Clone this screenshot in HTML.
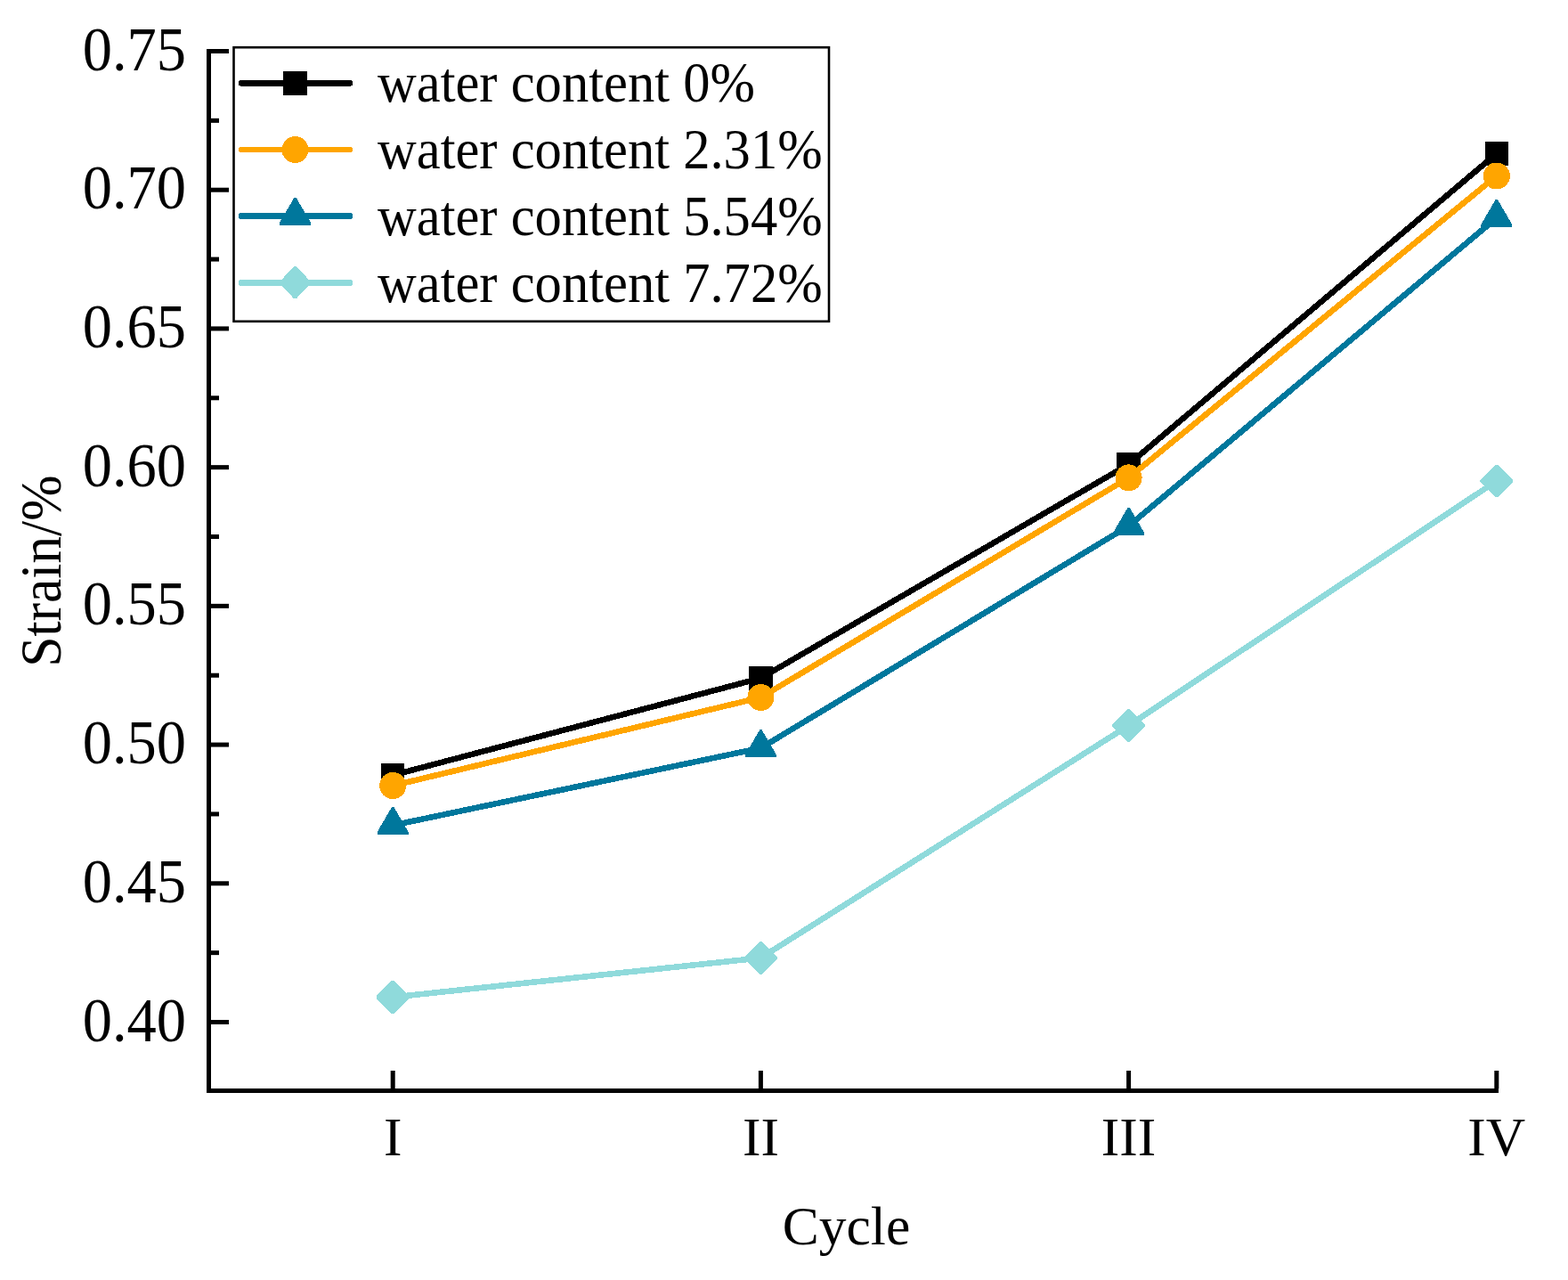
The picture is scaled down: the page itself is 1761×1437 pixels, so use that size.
<!DOCTYPE html>
<html><head><meta charset="utf-8"><title>Strain vs Cycle</title>
<style>
html,body{margin:0;padding:0;background:#fff;}
body{width:1761px;height:1437px;overflow:hidden;}
svg{display:block;}
text{font-family:"Liberation Serif","Times New Roman",serif;fill:#000;}
.tk{font-size:66.5px;}
.xl{font-size:61.5px;}
.ti{font-size:61.5px;}
.lg{font-size:60.6px;}
</style></head><body>
<svg width="1761" height="1437" viewBox="0 0 1761 1437">
<rect width="1761" height="1437" fill="#fff"/>
<rect x="232" y="55" width="5" height="1172" fill="#000"/>
<rect x="232" y="1222" width="1451" height="5" fill="#000"/>
<rect x="237" y="55.00" width="20" height="5" fill="#000"/>
<rect x="237" y="132.86" width="9" height="5" fill="#000"/>
<text transform="translate(209,78.50) scale(1,1.045)" text-anchor="end" class="tk">0.75</text>
<rect x="237" y="210.71" width="20" height="5" fill="#000"/>
<rect x="237" y="288.57" width="9" height="5" fill="#000"/>
<text transform="translate(209,234.21) scale(1,1.045)" text-anchor="end" class="tk">0.70</text>
<rect x="237" y="366.43" width="20" height="5" fill="#000"/>
<rect x="237" y="444.29" width="9" height="5" fill="#000"/>
<text transform="translate(209,389.93) scale(1,1.045)" text-anchor="end" class="tk">0.65</text>
<rect x="237" y="522.14" width="20" height="5" fill="#000"/>
<rect x="237" y="600.00" width="9" height="5" fill="#000"/>
<text transform="translate(209,545.64) scale(1,1.045)" text-anchor="end" class="tk">0.60</text>
<rect x="237" y="677.86" width="20" height="5" fill="#000"/>
<rect x="237" y="755.71" width="9" height="5" fill="#000"/>
<text transform="translate(209,701.36) scale(1,1.045)" text-anchor="end" class="tk">0.55</text>
<rect x="237" y="833.57" width="20" height="5" fill="#000"/>
<rect x="237" y="911.43" width="9" height="5" fill="#000"/>
<text transform="translate(209,857.07) scale(1,1.045)" text-anchor="end" class="tk">0.50</text>
<rect x="237" y="989.29" width="20" height="5" fill="#000"/>
<rect x="237" y="1067.14" width="9" height="5" fill="#000"/>
<text transform="translate(209,1012.79) scale(1,1.045)" text-anchor="end" class="tk">0.45</text>
<rect x="237" y="1145.00" width="20" height="5" fill="#000"/>
<text transform="translate(209,1168.50) scale(1,1.045)" text-anchor="end" class="tk">0.40</text>
<rect x="438.70" y="1202" width="5" height="20" fill="#000"/>
<text x="441.20" y="1297" text-anchor="middle" class="xl">I</text>
<rect x="851.90" y="1202" width="5" height="20" fill="#000"/>
<text x="854.40" y="1297" text-anchor="middle" class="xl">II</text>
<rect x="1265.10" y="1202" width="5" height="20" fill="#000"/>
<text x="1267.60" y="1297" text-anchor="middle" class="xl">III</text>
<rect x="1678.30" y="1202" width="5" height="20" fill="#000"/>
<text x="1680.80" y="1297" text-anchor="middle" class="xl">IV</text>
<text x="950.5" y="1397" text-anchor="middle" class="ti">Cycle</text>
<text transform="translate(68.2,641.2) rotate(-90) scale(1,1.05)" text-anchor="middle" class="ti">Strain/%</text>
<g shape-rendering="crispEdges">
<polyline points="441.20,870.25 854.40,761.35 1267.60,521.35 1680.80,172.40" fill="none" stroke="#000000" stroke-width="6.6" stroke-linejoin="round" stroke-linecap="butt"/>
<rect x="427.95" y="857.00" width="26.5" height="26.5" fill="#000000"/>
<rect x="841.15" y="748.10" width="26.5" height="26.5" fill="#000000"/>
<rect x="1254.35" y="508.10" width="26.5" height="26.5" fill="#000000"/>
<rect x="1667.55" y="159.15" width="26.5" height="26.5" fill="#000000"/>
<polyline points="441.20,882.00 854.40,783.00 1267.60,536.40 1680.80,197.50" fill="none" stroke="#FFA500" stroke-width="6.6" stroke-linejoin="round" stroke-linecap="butt"/>
<circle cx="441.20" cy="882.00" r="15" fill="#FFA500"/>
<circle cx="854.40" cy="783.00" r="15" fill="#FFA500"/>
<circle cx="1267.60" cy="536.40" r="15" fill="#FFA500"/>
<circle cx="1680.80" cy="197.50" r="15" fill="#FFA500"/>
<polyline points="441.20,926.50 854.40,839.80 1267.60,590.50 1680.80,244.60" fill="none" stroke="#00779C" stroke-width="6.6" stroke-linejoin="round" stroke-linecap="butt"/>
<polygon points="440.20,905.70 442.20,905.70 458.60,933.80 458.60,936.80 423.80,936.80 423.80,933.80" fill="#00779C"/>
<polygon points="853.40,819.00 855.40,819.00 871.80,847.10 871.80,850.10 837.00,850.10 837.00,847.10" fill="#00779C"/>
<polygon points="1266.60,569.70 1268.60,569.70 1285.00,597.80 1285.00,600.80 1250.20,600.80 1250.20,597.80" fill="#00779C"/>
<polygon points="1679.80,223.80 1681.80,223.80 1698.20,251.90 1698.20,254.90 1663.40,254.90 1663.40,251.90" fill="#00779C"/>
<polyline points="441.20,1119.50 854.40,1075.40 1267.60,814.50 1680.80,540.00" fill="none" stroke="#8FDADB" stroke-width="6.6" stroke-linejoin="round" stroke-linecap="butt"/>
<polygon points="439.80,1101.15 442.60,1101.15 459.55,1118.10 459.55,1120.90 442.60,1137.85 439.80,1137.85 422.85,1120.90 422.85,1118.10" fill="#8FDADB"/>
<polygon points="853.00,1057.05 855.80,1057.05 872.75,1074.00 872.75,1076.80 855.80,1093.75 853.00,1093.75 836.05,1076.80 836.05,1074.00" fill="#8FDADB"/>
<polygon points="1266.20,796.15 1269.00,796.15 1285.95,813.10 1285.95,815.90 1269.00,832.85 1266.20,832.85 1249.25,815.90 1249.25,813.10" fill="#8FDADB"/>
<polygon points="1679.40,521.65 1682.20,521.65 1699.15,538.60 1699.15,541.40 1682.20,558.35 1679.40,558.35 1662.45,541.40 1662.45,538.60" fill="#8FDADB"/>
</g>
<rect x="262.5" y="53.2" width="668.5" height="307.6" fill="#fff" stroke="#000" stroke-width="2.6"/>
<g shape-rendering="crispEdges"><line x1="271" y1="93.4" x2="393" y2="93.4" stroke="#000000" stroke-width="6.6" stroke-linecap="round"/>
<rect x="318.25" y="80.15" width="26.5" height="26.5" fill="#000000"/></g>
<text transform="translate(424,114.40) scale(1,1.035)" class="lg">water content 0%</text>
<g shape-rendering="crispEdges"><line x1="271" y1="168" x2="393" y2="168" stroke="#FFA500" stroke-width="6.6" stroke-linecap="round"/>
<circle cx="331.50" cy="168.00" r="15" fill="#FFA500"/></g>
<text transform="translate(424,189.00) scale(1,1.035)" class="lg">water content 2.31%</text>
<g shape-rendering="crispEdges"><line x1="271" y1="242.5" x2="393" y2="242.5" stroke="#00779C" stroke-width="6.6" stroke-linecap="round"/>
<polygon points="330.50,221.70 332.50,221.70 348.90,249.80 348.90,252.80 314.10,252.80 314.10,249.80" fill="#00779C"/></g>
<text transform="translate(424,263.50) scale(1,1.035)" class="lg">water content 5.54%</text>
<g shape-rendering="crispEdges"><line x1="271" y1="317.5" x2="393" y2="317.5" stroke="#8FDADB" stroke-width="6.6" stroke-linecap="round"/>
<polygon points="330.10,299.20 332.90,299.20 348.50,315.80 348.50,318.60 332.90,335.20 330.10,335.20 314.50,318.60 314.50,315.80" fill="#8FDADB"/></g>
<text transform="translate(424,338.50) scale(1,1.035)" class="lg">water content 7.72%</text>
</svg>
</body></html>
